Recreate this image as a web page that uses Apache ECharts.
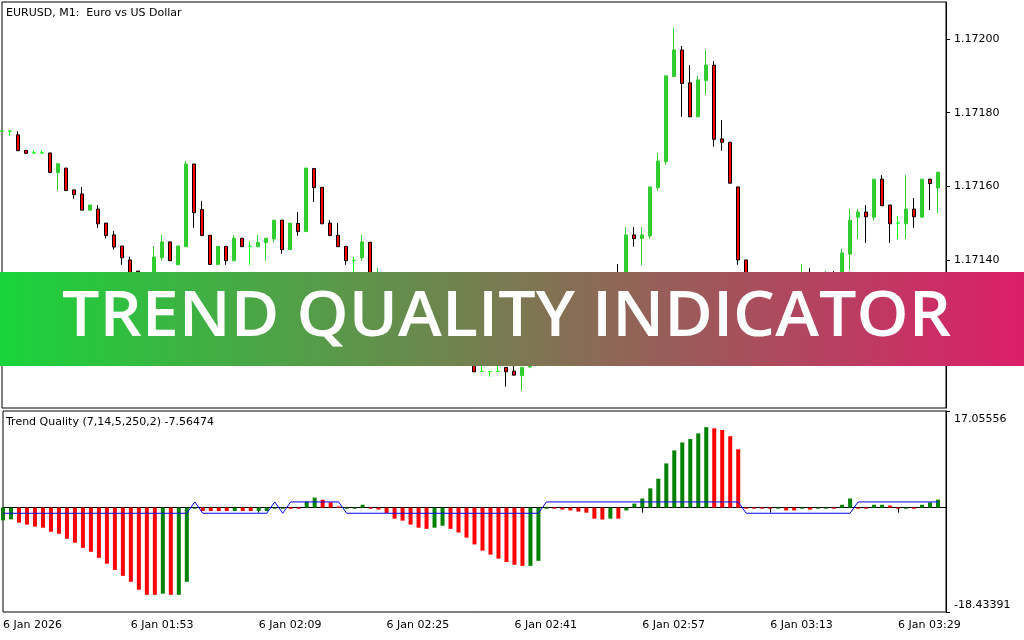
<!DOCTYPE html>
<html><head><meta charset="utf-8">
<script src="https://cdn.jsdelivr.net/npm/echarts@6/dist/echarts.min.js"></script>
<style>html,body{margin:0;padding:0;background:#fff}#c{width:1024px;height:640px}</style>
</head><body><div id="c"></div>
<script>
const times = ["01:37","01:38","01:39","01:40","01:41","01:42","01:43","01:44","01:45","01:46","01:47","01:48","01:49","01:50","01:51","01:52","01:53","01:54","01:55","01:56","01:57","01:58","01:59",
"02:00","02:01","02:02","02:03","02:04","02:05","02:06","02:07","02:08","02:09","02:10","02:11","02:12","02:13","02:14","02:15","02:16","02:17","02:18","02:19","02:20","02:21","02:22","02:23","02:24","02:25","02:26","02:27","02:28","02:29","02:30","02:31","02:32","02:33","02:34","02:35","02:36","02:37","02:38","02:39","02:40","02:41","02:42","02:43","02:44","02:45","02:46","02:47","02:48","02:49","02:50","02:51","02:52","02:53","02:54","02:55","02:56","02:57","02:58","02:59",
"03:00","03:01","03:02","03:03","03:04","03:05","03:06","03:07","03:08","03:09","03:10","03:11","03:12","03:13","03:14","03:15","03:16","03:17","03:18","03:19","03:20","03:21","03:22","03:23","03:24","03:25","03:26","03:27","03:28","03:29","03:30","03:31","03:32","03:33","03:34","03:35"];
const xTickLabels = ["6 Jan 2026","6 Jan 01:53","6 Jan 02:09","6 Jan 02:25","6 Jan 02:41","6 Jan 02:57","6 Jan 03:13","6 Jan 03:29"];
const priceTicks = [1.17120, 1.17140, 1.17160, 1.17180, 1.17200];
const priceMin = 1.17100, priceMax = 1.17210;
const tqMin = -18.43391, tqMax = 17.05556;

const opens = [1.171750,1.171750,1.171740,1.171698,1.171691,1.171691,1.171691,1.171638,1.171650,1.171591,
1.171580,1.171536,1.171539,1.171501,1.171469,1.171439,1.171401,1.171371,1.171341,1.171320,
1.171407,1.171450,1.171388,1.171437,1.171661,1.171538,1.171468,1.171389,1.171438,1.171399,
1.171460,1.171438,1.171437,1.171448,1.171458,1.171509,1.171429,1.171500,1.171478,1.171649,
1.171598,1.171501,1.171468,1.171438,1.171400,1.171407,1.171449,1.171320,1.171336,1.171293,
1.171266,1.171244,1.171225,1.171244,1.171206,1.171222,1.171233,1.171195,1.171168,1.171130,
1.171099,1.171099,1.171099,1.171110,1.171100,1.171088,1.171111,1.171266,1.171325,1.171333,
1.171320,1.171312,1.171303,1.171298,1.171287,1.171271,1.171260,1.171341,1.171306,1.171469,
1.171459,1.171466,1.171597,1.171667,1.171898,1.171970,1.171881,1.171789,1.171887,1.171929,
1.171729,1.171720,1.171599,1.171401,1.171314,1.171303,1.171298,1.171293,1.171303,1.171287,
1.171276,1.171325,1.171303,1.171314,1.171333,1.171320,1.171417,1.171517,1.171531,1.171517,
1.171620,1.171550,1.171501,1.171499,1.171539,1.171517,1.171620,1.171596];
const closes = [1.171750,1.171750,1.171697,1.171690,1.171691,1.171691,1.171638,1.171662,1.171589,1.171578,
1.171536,1.171550,1.171499,1.171467,1.171436,1.171407,1.171358,1.171336,1.171314,1.171409,
1.171450,1.171399,1.171439,1.171661,1.171529,1.171467,1.171389,1.171438,1.171399,1.171460,
1.171437,1.171438,1.171449,1.171460,1.171509,1.171429,1.171501,1.171478,1.171650,1.171597,
1.171499,1.171467,1.171437,1.171399,1.171400,1.171450,1.171333,1.171336,1.171293,1.171266,
1.171244,1.171225,1.171244,1.171206,1.171222,1.171233,1.171195,1.171168,1.171135,1.171098,
1.171099,1.171099,1.171099,1.171098,1.171089,1.171110,1.171266,1.171325,1.171333,1.171320,
1.171312,1.171303,1.171298,1.171287,1.171271,1.171260,1.171341,1.171306,1.171469,1.171459,
1.171469,1.171599,1.171669,1.171900,1.171970,1.171879,1.171789,1.171889,1.171929,1.171728,
1.171720,1.171609,1.171401,1.171314,1.171303,1.171298,1.171293,1.171303,1.171287,1.171276,
1.171325,1.171303,1.171314,1.171333,1.171320,1.171420,1.171509,1.171531,1.171518,1.171620,
1.171548,1.171499,1.171501,1.171539,1.171518,1.171620,1.171608,1.171639];
const highs = [1.171750,1.171750,1.171750,1.171698,1.171699,1.171699,1.171691,1.171662,1.171650,1.171591,
1.171599,1.171550,1.171550,1.171501,1.171480,1.171439,1.171410,1.171371,1.171347,1.171439,
1.171469,1.171450,1.171439,1.171669,1.171661,1.171561,1.171468,1.171438,1.171438,1.171469,
1.171460,1.171450,1.171469,1.171460,1.171509,1.171509,1.171501,1.171531,1.171650,1.171649,
1.171598,1.171509,1.171501,1.171438,1.171409,1.171469,1.171449,1.171379,1.171341,1.171298,
1.171271,1.171249,1.171255,1.171249,1.171233,1.171249,1.171244,1.171200,1.171176,1.171138,
1.171114,1.171099,1.171114,1.171110,1.171114,1.171110,1.171279,1.171336,1.171347,1.171339,
1.171325,1.171317,1.171309,1.171303,1.171293,1.171276,1.171350,1.171390,1.171490,1.171490,
1.171490,1.171599,1.171691,1.171900,1.172030,1.171981,1.171929,1.171900,1.171970,1.171940,
1.171780,1.171720,1.171599,1.171401,1.171320,1.171309,1.171303,1.171314,1.171309,1.171293,
1.171390,1.171379,1.171325,1.171371,1.171371,1.171431,1.171539,1.171539,1.171550,1.171620,
1.171631,1.171550,1.171520,1.171631,1.171569,1.171620,1.171620,1.171639];
const lows = [1.171750,1.171739,1.171697,1.171690,1.171691,1.171691,1.171638,1.171589,1.171589,1.171567,
1.171536,1.171536,1.171488,1.171459,1.171429,1.171388,1.171347,1.171325,1.171303,1.171312,
1.171399,1.171399,1.171388,1.171437,1.171488,1.171467,1.171389,1.171389,1.171388,1.171399,
1.171437,1.171388,1.171437,1.171399,1.171448,1.171418,1.171429,1.171467,1.171478,1.171558,
1.171499,1.171467,1.171437,1.171388,1.171358,1.171398,1.171325,1.171309,1.171284,1.171257,
1.171236,1.171217,1.171217,1.171198,1.171195,1.171214,1.171187,1.171160,1.171127,1.171098,
1.171099,1.171085,1.171099,1.171058,1.171089,1.171047,1.171108,1.171260,1.171314,1.171314,
1.171303,1.171298,1.171290,1.171279,1.171263,1.171249,1.171255,1.171298,1.171298,1.171437,
1.171387,1.171459,1.171589,1.171659,1.171898,1.171789,1.171789,1.171789,1.171849,1.171708,
1.171697,1.171609,1.171388,1.171303,1.171295,1.171293,1.171284,1.171287,1.171279,1.171268,
1.171271,1.171295,1.171298,1.171309,1.171312,1.171314,1.171374,1.171458,1.171447,1.171507,
1.171548,1.171447,1.171458,1.171458,1.171488,1.171517,1.171536,1.171528];

const tqValues = [-2.25,-2.07,-2.66,-3.0,-3.36,-3.55,-4.26,-4.62,-5.5,-6.2,
-7.1,-7.8,-8.87,-9.9,-11.0,-12.05,-13.1,-14.5,-15.4,-15.4,
-15.2,-15.4,-15.4,-13.1,-0.2,-0.6,-0.6,-0.6,-0.6,-0.6,
-0.6,-0.6,-0.6,-0.6,-0.2,-0.2,-0.2,-0.2,1.06,1.77,
1.4,0.94,0.2,-0.2,-0.2,0.5,-0.2,-0.35,-0.95,-1.95,
-2.3,-3.0,-3.55,-3.75,-3.55,-3.2,-3.75,-4.4,-5.3,-6.5,
-7.6,-8.3,-9.0,-9.6,-10.1,-10.3,-10.3,-9.4,-0.2,-0.2,
-0.35,-0.5,-0.7,-0.9,-1.95,-2.1,-1.95,-1.95,-0.5,0.7,
1.6,3.4,5.1,7.8,10.1,11.5,12.1,13.1,14.2,14.0,
13.7,12.6,10.3,-0.2,-0.2,-0.2,-0.2,-0.2,-0.5,-0.5,
-0.2,-0.35,-0.2,-0.2,-0.2,0.5,1.6,-0.2,-0.2,0.5,
0.5,0.35,-0.2,-0.2,-0.2,0.5,0.9,1.4];
const tqColors = ["G","G","R","R","R","R","R","R","R","R",
"R","R","R","R","R","R","R","R","R","R",
"G","R","G","G","G","R","R","R","R","G",
"R","R","G","G","G","G","R","R","G","G",
"R","R","R","G","G","G","R","R","R","R",
"R","R","R","R","G","G","R","R","R","R",
"R","R","R","R","R","R","G","G","G","R",
"R","R","R","R","R","R","G","R","G","G",
"G","G","G","G","G","G","G","G","G","R",
"R","R","R","R","R","R","R","G","R","R",
"G","R","G","G","R","G","G","R","R","G",
"G","R","R","G","R","G","G","G"];
const tqSignal = [-1,-1,-1,-1,-1,-1,-1,-1,-1,-1,-1,-1,-1,-1,-1,-1,-1,-1,-1,-1,-1,-1,-1,-1,
1,-1,-1,-1,-1,-1,-1,-1,-1,-1,1,-1,1,1,1,1,1,1,1,
-1,-1,-1,-1,-1,-1,-1,-1,-1,-1,-1,-1,-1,-1,-1,-1,-1,-1,-1,-1,-1,-1,-1,-1,-1,
1,1,1,1,1,1,1,1,1,1,1,1,1,1,1,1,1,1,1,1,1,1,1,1,1,
-1,-1,-1,-1,-1,-1,-1,-1,-1,-1,-1,-1,-1,-1,
1,1,1,1,1,1,1,1,1,1,1];

const FONT = 'DejaVu Sans';
const BANNER_TEXT = 'TREND QUALITY INDICATOR';
const BANNER_FONT = '600 63px "Open Sans"';
const candleData = opens.map((o, i) => [o, closes[i], lows[i], highs[i]]);
const histData = tqValues.map((v, i) => ({ value: v, itemStyle: { color: tqColors[i] === 'G' ? '#008000' : '#FF0000' } }));

// stretch banner text to the reference's text span
const mctx = document.createElement('canvas').getContext('2d');
mctx.font = BANNER_FONT;
const bannerW = mctx.measureText(BANNER_TEXT).width || 889;
const bannerScaleX = 889 / bannerW;

const chart = echarts.init(document.getElementById('c'), null, { renderer: 'canvas' });
chart.setOption({
  animation: false,
  backgroundColor: '#ffffff',
  title: [
    { text: 'EURUSD, M1:  Euro vs US Dollar', left: 6, top: 8, padding: 0,
      textStyle: { fontSize: 11, fontWeight: 'normal', color: '#000', fontFamily: FONT } },
    { text: 'Trend Quality (7,14,5,250,2) -7.56474', left: 6, top: 417, padding: 0,
      textStyle: { fontSize: 11, fontWeight: 'normal', color: '#000', fontFamily: FONT } }
  ],
  grid: [
    { left: 2, right: 78, top: 2, height: 406, show: true, borderColor: '#000', borderWidth: 1, backgroundColor: '#fff' },
    { left: 2, right: 78, top: 411, height: 201, show: true, borderColor: '#000', borderWidth: 1, backgroundColor: '#fff' }
  ],
  xAxis: [
    { gridIndex: 0, type: 'category', data: times, boundaryGap: false, show: false },
    { gridIndex: 1, type: 'category', data: times, boundaryGap: false,
      axisLine: { show: true, lineStyle: { color: '#000', width: 1 } },
      axisTick: { show: true, interval: 15, length: 5, lineStyle: { color: '#000' } },
      axisLabel: { interval: 15, align: 'left', margin: 8, color: '#000', fontFamily: FONT, fontSize: 11,
        formatter: (v, i) => xTickLabels[Math.round(i / 16)] },
      splitLine: { show: false } }
  ],
  yAxis: [
    { gridIndex: 0, type: 'value', position: 'right', min: priceMin, max: priceMax,
      splitLine: { show: false },
      axisLine: { show: true, lineStyle: { color: '#000' } },
      axisTick: { show: true, length: 4, customValues: priceTicks, lineStyle: { color: '#000' } },
      axisLabel: { customValues: priceTicks, margin: 8, color: '#000', fontFamily: FONT, fontSize: 11,
        formatter: v => v.toFixed(5) } },
    { gridIndex: 1, type: 'value', position: 'right', min: tqMin, max: tqMax,
      splitLine: { show: false },
      axisLine: { show: true, lineStyle: { color: '#000' } },
      axisTick: { show: true, length: 4, customValues: [tqMin, tqMax], lineStyle: { color: '#000' } },
      axisLabel: { customValues: [tqMin, tqMax], margin: 8, color: '#000', fontFamily: FONT, fontSize: 11,
        formatter: v => v > 0 ? '{t|' + tqMax.toFixed(5) + '}' : '{b|' + tqMin.toFixed(5) + '}',
        rich: {
          t: { padding: [17, 0, 0, 0], fontFamily: FONT, fontSize: 11, color: '#000' },
          b: { padding: [0, 0, 14, 0], fontFamily: FONT, fontSize: 11, color: '#000' }
        } } }
  ],
  series: [
    { type: 'candlestick', xAxisIndex: 0, yAxisIndex: 0, data: candleData, barWidth: 4,
      itemStyle: { color: '#32CD32', color0: '#FF0000', borderColor: '#32CD32', borderColor0: '#000000',
        borderColorDoji: '#00FF00', borderWidth: 1 } },
    { type: 'bar', xAxisIndex: 1, yAxisIndex: 1, data: histData, barWidth: 4, barMinHeight: 1 },
    { type: 'line', xAxisIndex: 1, yAxisIndex: 1, data: tqSignal, symbol: 'none', z: 5,
      lineStyle: { color: '#0000FF', width: 1 } }
  ],
  graphic: [
    { type: 'rect', z: 100, shape: { x: 0, y: 272, width: 1024, height: 94 },
      style: { fill: new echarts.graphic.LinearGradient(0, 0, 1, 0, [
        { offset: 0, color: '#19D43A' }, { offset: 1, color: '#DC1E69' }]) } },
    { type: 'text', z: 101, x: 506.5, y: 318, scaleX: bannerScaleX, originX: 0, originY: 0,
      style: { text: BANNER_TEXT, fill: '#ffffff', font: BANNER_FONT,
        align: 'center', verticalAlign: 'middle' } }
  ]
});
</script></body></html>
